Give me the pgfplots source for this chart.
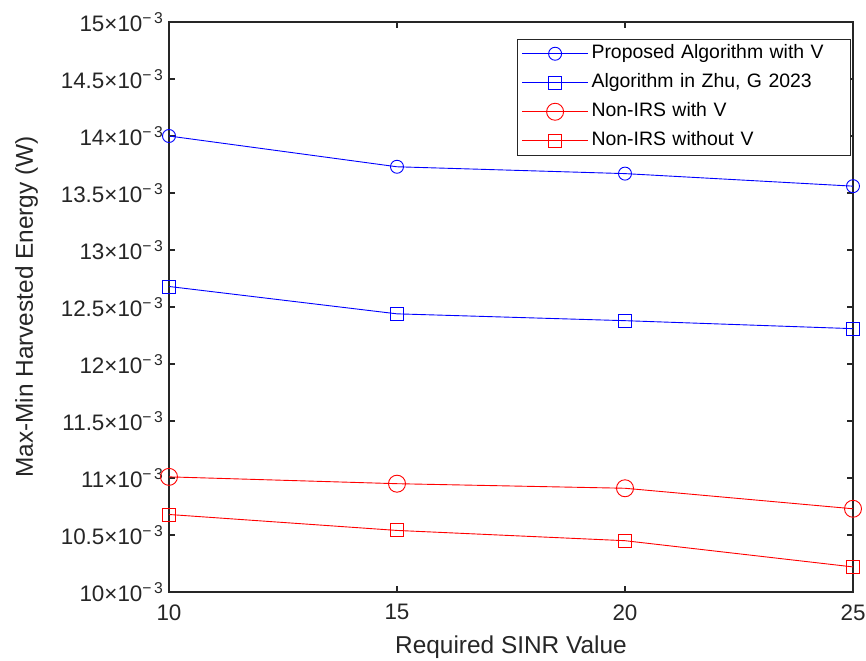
\documentclass[border=0pt]{standalone}
\usepackage{fontspec}
\setmainfont{Liberation Sans}
\usepackage{pgfplots}
\pgfplotsset{compat=1.18}
\definecolor{axgray}{rgb}{0.15,0.15,0.15}
\definecolor{mblue}{rgb}{0,0,1}
\definecolor{mred}{rgb}{1,0,0}
\begin{document}
\begin{tikzpicture}
\begin{axis}[
  scale only axis,
  width=684bp, height=570bp,
  xmin=10, xmax=25, ymin=10, ymax=15,
  xtick={10,15,20,25},
  ytick={10,10.5,11,11.5,12,12.5,13,13.5,14,14.5,15},
  /pgf/number format/assume math mode=true,
  yticklabel={\pgfmathprintnumber{\tick}×10\textsuperscript{−\,3}},
  tick align=inside,
  major tick length=6bp,
  axis line style={axgray, line width=1.4bp},
  every tick/.style={axgray, line width=1.2bp},
  tick label style={font=\fontsize{22.5}{26}\selectfont, text=axgray},
  label style={font=\fontsize{24.5}{28}\selectfont, text=axgray},
  xlabel={Required SINR Value},
  ylabel={Max-Min Harvested Energy (W)},
  xticklabel style={yshift=-9bp},
  yticklabel style={xshift=-2bp},
  xlabel style={yshift=-9bp},
  ylabel style={yshift=16bp},
  legend style={
    at={(rel axis cs:0.997,0.970)}, anchor=north east,
    font=\fontsize{19.5}{23}\selectfont,
    draw=axgray, line width=0.8bp, fill=white,
    inner xsep=4bp, inner ysep=3bp,
    row sep=6.5bp,
    legend cell align=left,
    nodes={inner xsep=3bp, inner ysep=2bp, text height=14.5bp, text depth=4bp, text width=252bp, align=left},
  },
  legend image code/.code={\draw[mark repeat=2,mark phase=2] plot coordinates {(0bp,0bp) (33bp,0bp) (66bp,0bp)};},
]
\addplot[mblue, line width=0.9bp, mark=o, mark size=6.5bp, mark options={line width=0.9bp}]
  coordinates {(10,14.00) (15,13.73) (20,13.67) (25,13.56)};
\addlegendentry{Proposed Algorithm with V}
\addplot[mblue, line width=0.9bp, mark=square, mark size=6.5bp, mark options={line width=0.9bp}]
  coordinates {(10,12.68) (15,12.44) (20,12.38) (25,12.31)};
\addlegendentry{Algorithm in Zhu, G 2023}
\addplot[mred, line width=0.9bp, mark=o, mark size=8.5bp, mark options={line width=0.9bp}]
  coordinates {(10,11.01) (15,10.95) (20,10.91) (25,10.73)};
\addlegendentry{Non-IRS with V}
\addplot[mred, line width=0.9bp, mark=square, mark size=6.5bp, mark options={line width=0.9bp}]
  coordinates {(10,10.68) (15,10.54) (20,10.45) (25,10.22)};
\addlegendentry{Non-IRS without V}
\end{axis}
\pgfresetboundingbox
\path[use as bounding box] ([xshift=-169bp,yshift=-69bp]current axis.south west) rectangle ([xshift=13bp,yshift=22bp]current axis.north east);
\end{tikzpicture}
\end{document}
